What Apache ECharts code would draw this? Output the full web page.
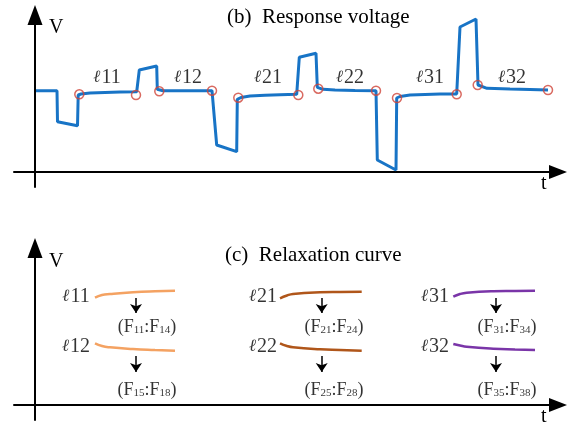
<!DOCTYPE html>
<html><head><meta charset="utf-8">
<script src="https://cdn.jsdelivr.net/npm/echarts@6/dist/echarts.min.js"></script>
<style>html,body{margin:0;padding:0;background:#fff}#c{width:567px;height:430px}</style>
</head><body><div id="c"></div>
<script>
// ---- Panel (b): response voltage (t, V) ----
const voltage = [
  [1,81.3],[22,81.3],[22.5,50.3],[42.5,46.3],[43.2,77],[46,78],[55,79],[70,79.6],[85,80],[101.7,80.3],
  [104.3,102],[121.7,106],[122.3,82.7],[128,81.3],[140,81.3],[160,81.3],[177,81.3],
  [181.7,27],[201.7,20.3],[202.3,72.7],[206,74.5],[215,76],[230,76.8],[245,77.3],[261.7,77.7],
  [264.3,114.7],[281,118.7],[282.3,84.7],[288,82.7],[300,82],[320,81.6],[341,81.3],
  [342.3,12],[361,2],[361.7,74],[365,75.5],[375,77],[390,77.6],[405,78],[421.7,78],
  [425,145],[441,153],[443,87],[452,83.7],[475,83],[495,82.5],[513,82]
];
const markerPts = [
  [44.3,77.7],[101,77],[124.3,80.7],[177,81.3],[203.3,74.3],[263.3,77],
  [283.3,83.3],[341,81.3],[362,74],[421.7,77.7],[442.7,87],[513,82]
];
const segNames = ['11','12','21','22','31','32'];
const segLabelT = [72,153,233,315,395,477];
const segLabelV = 94;

// ---- Panel (c): relaxation curves ----
const relaxNames = ['11','12','21','22','31','32'];
const relaxColors = ['#F4A262','#F4A262','#B0561A','#B0561A','#7A35A8','#7A35A8'];
const relaxCurves = [
  [[60,107.3],[67,110],[75,111],[98,112.8],[120,113.8],[140,114.3]],
  [[60,61.7],[67,59],[75,57.7],[98,56],[120,55],[140,54.3]],
  [[245,106.7],[252,109.5],[258,111],[285,112.7],[305,113.1],[326.7,113.3]],
  [[245,61.7],[252,59],[258,57.7],[285,55.7],[305,55],[326.7,54.3]],
  [[418.3,108.3],[425,111],[431.7,112.3],[458.3,113.7],[480,114],[500,114.3]],
  [[418.3,61],[425,59.5],[431.7,58.3],[458.3,56.3],[480,55.5],[500,55]]
];
const relaxLabelT = [41,41,228,228,400,400];
const relaxLabelV = [108,58,108,58,108,58];
const featureLabels = [['11','14'],['15','18'],['21','24'],['25','28'],['31','34'],['35','38']];
const featureT = [112,112,299,299,472,472];
const featureV = [78,15,78,15,78,15];
const arrowT = [101,101,286.7,286.7,461,461];
const arrowTopV = [107,49,107,49,107,49];
const arrowBotV = [92,33,92,33,92,33];

const FONT = '"Liberation Serif","DejaVu Serif",serif';
const chart = echarts.init(document.getElementById('c'), null, {renderer:'canvas'});

function axisX(gi){
  return {type:'value', gridIndex:gi, min:-21, max:523,
    axisLine:{show:true, onZero:true, symbol:['none','triangle'], symbolSize:[14,18], lineStyle:{color:'#000', width:2}},
    axisTick:{show:false}, axisLabel:{show:false}, splitLine:{show:false}};
}
function axisY(gi){
  return {type:'value', gridIndex:gi, min:-15, max:157,
    axisLine:{show:true, onZero:true, symbol:['none','triangle'], symbolSize:[15,20], lineStyle:{color:'#000', width:2}},
    axisTick:{show:false}, axisLabel:{show:false}, splitLine:{show:false}};
}
const ellRich = {
  l:{fontFamily:'"DejaVu Serif"', fontStyle:'italic', fontSize:17, color:'#000', padding:[0,1,0,0]},
  n:{fontFamily:FONT, fontSize:20, color:'#000'}
};

const series = [];
series.push({type:'line', xAxisIndex:0, yAxisIndex:0, data:voltage, showSymbol:false, smooth:false,
  lineStyle:{color:'#1874C6', width:3}, z:3, animation:false});
series.push({type:'scatter', xAxisIndex:0, yAxisIndex:0, data:markerPts, symbol:'circle', symbolSize:9,
  itemStyle:{color:'rgba(0,0,0,0)', borderColor:'#D0453A', borderWidth:1.5}, z:4, animation:false});
series.push({type:'scatter', xAxisIndex:0, yAxisIndex:0, symbolSize:0,
  data:segNames.map((n,i)=>({name:n, value:[segLabelT[i], segLabelV]})),
  label:{show:true, position:'inside', formatter:p=>'{l|ℓ}{n|'+p.name+'}', rich:ellRich},
  animation:false});

relaxCurves.forEach((c,i)=>{
  series.push({type:'line', xAxisIndex:1, yAxisIndex:1, data:c, showSymbol:false, smooth:true,
    lineStyle:{color:relaxColors[i], width:2.5}, animation:false});
});
series.push({type:'scatter', xAxisIndex:1, yAxisIndex:1, symbolSize:0,
  data:relaxNames.map((n,i)=>({name:n, value:[relaxLabelT[i], relaxLabelV[i]]})),
  label:{show:true, position:'inside', formatter:p=>'{l|ℓ}{n|'+p.name+'}', rich:ellRich},
  animation:false});
series.push({type:'lines', coordinateSystem:'cartesian2d', xAxisIndex:1, yAxisIndex:1,
  data:arrowT.map((t,i)=>({coords:[[t,arrowTopV[i]],[t,arrowBotV[i]]]})),
  symbol:['none','arrow'], symbolSize:9, lineStyle:{color:'#000', width:1.5, opacity:1}, animation:false});
series.push({type:'scatter', xAxisIndex:1, yAxisIndex:1, symbolSize:0,
  data:featureLabels.map((f,i)=>({name:'(F{s|'+f[0]+'}:F{s|'+f[1]+'})', value:[featureT[i], featureV[i]]})),
  label:{show:true, position:'inside', formatter:p=>p.name, color:'#000', fontFamily:FONT, fontSize:18,
    rich:{s:{fontSize:11, fontFamily:FONT, color:'#000', verticalAlign:'bottom', padding:[6,0,0,0]}}},
  animation:false});

chart.setOption({
  backgroundColor:'#fff',
  animation:false,
  grid:[
    {left:14, right:9, top:15, height:172},
    {left:14, right:9, top:248, height:172}
  ],
  xAxis:[axisX(0), axisX(1)],
  yAxis:[axisY(0), axisY(1)],
  graphic:[
    {type:'text', left:227, top:7, style:{text:'(b)  Response voltage', font:'21px '+FONT, fill:'#000'}},
    {type:'text', left:225, top:245, style:{text:'(c)  Relaxation curve', font:'21px '+FONT, fill:'#000'}},
    {type:'text', left:49, top:18, style:{text:'V', font:'20px '+FONT, fill:'#000'}},
    {type:'text', left:49, top:252, style:{text:'V', font:'20px '+FONT, fill:'#000'}},
    {type:'text', left:541, top:174, style:{text:'t', font:'20px '+FONT, fill:'#000'}},
    {type:'text', left:541, top:407, style:{text:'t', font:'20px '+FONT, fill:'#000'}}
  ],
  series:series
});
</script></body></html>
